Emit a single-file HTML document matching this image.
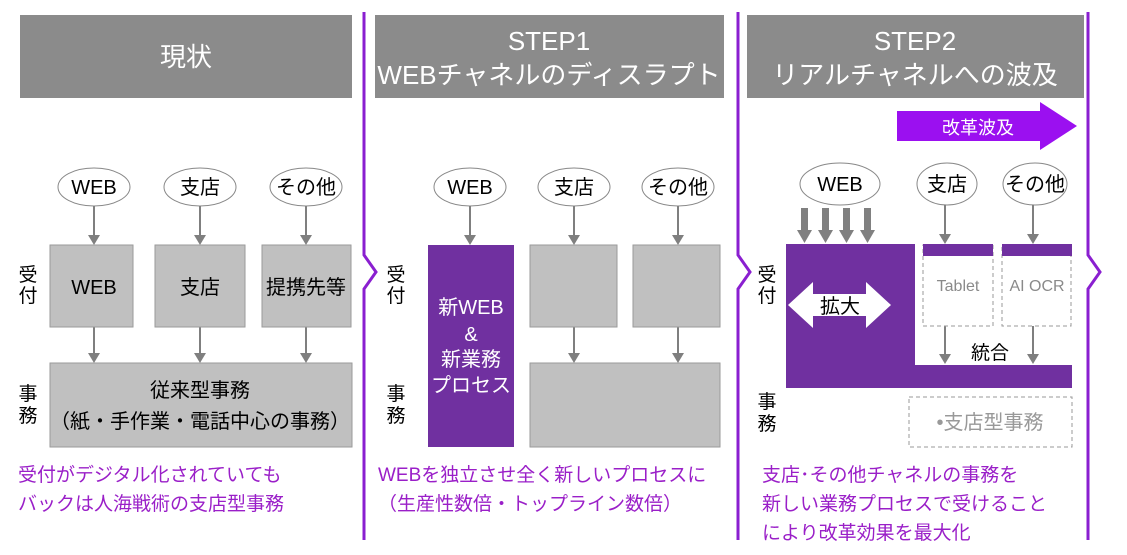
<!DOCTYPE html>
<html><head><meta charset="utf-8"><style>
html,body{margin:0;padding:0;background:#fff;width:1127px;height:555px;overflow:hidden}
svg{display:block}
text{font-family:"Liberation Sans","Noto Sans CJK JP",sans-serif}
</style></head><body>
<svg width="1127" height="555" viewBox="0 0 1127 555" xmlns="http://www.w3.org/2000/svg">
<!-- headers -->
<rect x="20" y="15" width="332" height="83" fill="#8b8b8b"/>
<rect x="375" y="15" width="349" height="83" fill="#8b8b8b"/>
<rect x="747" y="15" width="337" height="83" fill="#8b8b8b"/>
<text x="186" y="66" fill="#fff" font-size="26" text-anchor="middle">現状</text>
<text x="549" y="50" fill="#fff" font-size="26" text-anchor="middle">STEP1</text>
<text x="549" y="84" fill="#fff" font-size="26" text-anchor="middle">WEBチャネルのディスラプト</text>
<text x="915" y="50" fill="#fff" font-size="26" text-anchor="middle">STEP2</text>
<text x="915" y="84" fill="#fff" font-size="26" text-anchor="middle">リアルチャネルへの波及</text>
<!-- dividers -->
<g stroke="#8a1fd0" stroke-width="3" fill="none">
<path d="M364,12 L364,255 L376,272 L364,289 L364,540"/>
<path d="M738,12 L738,255 L750,272 L738,289 L738,540"/>
<path d="M1088,12 L1088,255 L1100,272 L1088,289 L1088,540"/>
</g>
<!-- side labels -->
<g font-size="19" fill="#000" text-anchor="middle">
<text x="28" y="281">受</text><text x="28" y="302">付</text>
<text x="28" y="400">事</text><text x="28" y="422">務</text>
<text x="396" y="281">受</text><text x="396" y="302">付</text>
<text x="396" y="400">事</text><text x="396" y="422">務</text>
<text x="767" y="281">受</text><text x="767" y="302">付</text>
<text x="767" y="408">事</text><text x="767" y="430">務</text>
</g>
<!-- ellipses -->
<g fill="#fff" stroke="#888" stroke-width="1">
<ellipse cx="94" cy="187" rx="36" ry="19"/><ellipse cx="200" cy="187" rx="36" ry="19"/><ellipse cx="306" cy="187" rx="36" ry="19"/>
<ellipse cx="470" cy="187" rx="36" ry="19"/><ellipse cx="574" cy="187" rx="36" ry="19"/><ellipse cx="678" cy="187" rx="36" ry="19"/>
<ellipse cx="840" cy="184" rx="40" ry="21"/><ellipse cx="947" cy="184" rx="30" ry="21"/><ellipse cx="1035" cy="184" rx="32" ry="21"/>
</g>
<g font-size="20" fill="#000" text-anchor="middle">
<text x="94" y="194">WEB</text><text x="200" y="194">支店</text><text x="306" y="194">その他</text>
<text x="470" y="194">WEB</text><text x="574" y="194">支店</text><text x="678" y="194">その他</text>
<text x="840" y="191">WEB</text><text x="947" y="191">支店</text><text x="1035" y="191">その他</text>
</g>
<!-- arrows -->
<g stroke="#7f7f7f" stroke-width="2">
<line x1="94" y1="206" x2="94" y2="236"/><line x1="200" y1="206" x2="200" y2="236"/><line x1="306" y1="206" x2="306" y2="236"/>
<line x1="94" y1="327" x2="94" y2="354"/><line x1="200" y1="327" x2="200" y2="354"/><line x1="306" y1="327" x2="306" y2="354"/>
<line x1="470" y1="206" x2="470" y2="236"/><line x1="574" y1="206" x2="574" y2="236"/><line x1="678" y1="206" x2="678" y2="236"/>
<line x1="574" y1="327" x2="574" y2="354"/><line x1="678" y1="327" x2="678" y2="354"/>
<line x1="945" y1="205" x2="945" y2="235"/><line x1="1033" y1="205" x2="1033" y2="235"/>
<line x1="945" y1="326" x2="945" y2="355"/><line x1="1033" y1="326" x2="1033" y2="355"/>
</g>
<g fill="#7f7f7f">
<path d="M88,235 L100,235 L94,245Z"/><path d="M194,235 L206,235 L200,245Z"/><path d="M300,235 L312,235 L306,245Z"/>
<path d="M88,353 L100,353 L94,363Z"/><path d="M194,353 L206,353 L200,363Z"/><path d="M300,353 L312,353 L306,363Z"/>
<path d="M464,235 L476,235 L470,245Z"/><path d="M568,235 L580,235 L574,245Z"/><path d="M672,235 L684,235 L678,245Z"/>
<path d="M568,353 L580,353 L574,363Z"/><path d="M672,353 L684,353 L678,363Z"/>
<path d="M939,234 L951,234 L945,244Z"/><path d="M1027,234 L1039,234 L1033,244Z"/>
<path d="M939,354 L951,354 L945,364Z"/><path d="M1027,354 L1039,354 L1033,364Z"/>
</g>
<!-- panel1 boxes -->
<g fill="#c0c0c0" stroke="#9a9a9a" stroke-width="1">
<rect x="50" y="245" width="83" height="82"/><rect x="155" y="245" width="90" height="82"/><rect x="262" y="245" width="89" height="82"/>
<rect x="50" y="363" width="302" height="84"/>
<rect x="530" y="245" width="87" height="82"/><rect x="633" y="245" width="87" height="82"/>
<rect x="530" y="363" width="190" height="84"/>
</g>
<g font-size="20" fill="#000" text-anchor="middle">
<text x="94" y="294">WEB</text><text x="200" y="294">支店</text><text x="306" y="294">提携先等</text>
<text x="200" y="397">従来型事務</text><text x="200" y="428">（紙・手作業・電話中心の事務）</text>
</g>
<!-- panel2 purple -->
<rect x="428" y="245" width="86" height="202" fill="#7030a0"/>
<g font-size="20" fill="#fff" text-anchor="middle">
<text x="471" y="314">新WEB</text><text x="471" y="341">&amp;</text><text x="471" y="366">新業務</text><text x="471" y="392">プロセス</text>
</g>
<!-- panel3 -->
<path d="M897,111 L1040,111 L1040,102 L1077,126 L1040,150 L1040,141 L897,141 Z" fill="#9b10f0"/>
<text x="978" y="134" font-size="18" fill="#fff" text-anchor="middle">改革波及</text>
<g fill="#808080">
<rect x="801" y="208" width="7" height="22"/><path d="M797,230 L812,230 L804.5,243Z"/>
<rect x="822" y="208" width="7" height="22"/><path d="M818,230 L833,230 L825.5,243Z"/>
<rect x="843" y="208" width="7" height="22"/><path d="M839,230 L854,230 L846.5,243Z"/>
<rect x="864" y="208" width="7" height="22"/><path d="M860,230 L875,230 L867.5,243Z"/>
</g>
<path d="M786,244 L915,244 L915,365 L1072,365 L1072,388 L786,388 Z" fill="#7030a0"/>
<path d="M788,305 L813,282 L813,294 L866,294 L866,282 L891,305 L866,328 L866,316 L813,316 L813,328 Z" fill="#fff"/>
<text x="840" y="313" font-size="20" fill="#000" text-anchor="middle">拡大</text>
<g fill="none" stroke="#999" stroke-dasharray="4,3" stroke-width="1">
<rect x="923" y="245" width="70" height="81"/><rect x="1002" y="245" width="69" height="81"/>
<rect x="909" y="397" width="163" height="50"/>
</g>
<rect x="923" y="244" width="70" height="12" fill="#7030a0"/><rect x="1002" y="244" width="70" height="12" fill="#7030a0"/>
<text x="958" y="291" font-size="16" fill="#8a8a8a" text-anchor="middle">Tablet</text>
<text x="1037" y="291" font-size="16" fill="#8a8a8a" text-anchor="middle">AI OCR</text>
<text x="990" y="359" font-size="19" fill="#000" text-anchor="middle">統合</text>
<text x="990" y="429" font-size="20" fill="#999" text-anchor="middle">•支店型事務</text>
<!-- bottom text -->
<g font-size="19" fill="#9a1fc8">
<text x="18" y="481">受付がデジタル化されていても</text>
<text x="18" y="510">バックは人海戦術の支店型事務</text>
<text x="378" y="481">WEBを独立させ全く新しいプロセスに</text>
<text x="378" y="510">（生産性数倍・トップライン数倍）</text>
<text x="762" y="481">支店･その他チャネルの事務を</text>
<text x="762" y="510">新しい業務プロセスで受けること</text>
<text x="762" y="539">により改革効果を最大化</text>
</g>
</svg>
</body></html>
